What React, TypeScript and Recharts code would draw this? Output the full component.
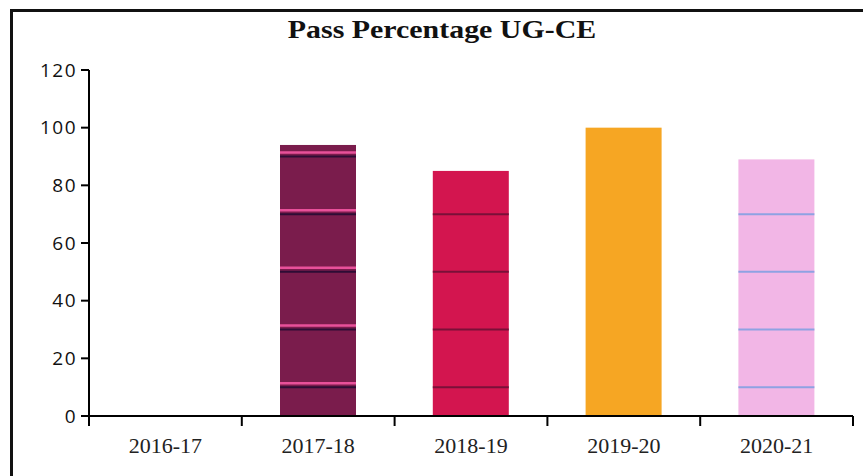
import { BarChart, Bar, Cell, XAxis, YAxis } from "recharts";

const YEARS = ["2016-17", "2017-18", "2018-19", "2019-20", "2020-21"];
const PASS_PCT = [0, 94, 85, 100, 89];
const Y_TICKS = [0, 20, 40, 60, 80, 100, 120];
// the scanned bars carry thin horizontal lines at these values
const STRIPE_AT = [10, 30, 50, 70, 90];

const BAR_STYLES = [
  { fill: "#ffffff", line: "", glow: "" },
  { fill: "#7a1c4c", line: "#2e0c35", glow: "#e8509a" },
  { fill: "#d3154f", line: "#7a1038", glow: "" },
  { fill: "#f6a623", line: "", glow: "" },
  { fill: "#f2b6e6", line: "#8ea2e2", glow: "" },
];

const data = YEARS.map((year, i) => ({ year, pass: PASS_PCT[i] }));

function StripedBar(props: any) {
  const { x, y, width, height, index, payload } = props;
  if (!height || height <= 0) return null;
  const style = BAR_STYLES[index];
  const v = payload.pass;
  const stripes = STRIPE_AT.filter((s) => s < v).map((s) => y + height * (1 - s / v));
  return (
    <g>
      <rect x={x} y={y} width={width} height={height} fill={style.fill} />
      {stripes.map((ly, i) => (
        <g key={i}>
          {style.glow && (
            <line x1={x} x2={x + width} y1={ly - 4} y2={ly - 4} stroke={style.glow} strokeWidth={2.5} />
          )}
          {style.line && (
            <line x1={x} x2={x + width} y1={ly} y2={ly} stroke={style.line} strokeWidth={2} />
          )}
        </g>
      ))}
    </g>
  );
}

function YearTick(props: any) {
  const { x, y, payload, index, visibleTicksCount } = props;
  const half = payload.offset || 76.4;
  const last = index === (visibleTicksCount ?? YEARS.length) - 1;
  return (
    <g>
      <line x1={x - half} x2={x - half} y1={y} y2={y + 10} stroke="#000" strokeWidth={2} />
      {last && <line x1={x + half} x2={x + half} y1={y} y2={y + 10} stroke="#000" strokeWidth={2} />}
      <text
        x={x}
        y={y + 37}
        textAnchor="middle"
        fontFamily="'Liberation Serif', serif"
        fontSize={22}
        fill="#222"
      >
        {payload.value}
      </text>
    </g>
  );
}

export default function App() {
  return (
    <div style={{ position: "absolute", left: 0, top: 0, width: 863, height: 476, background: "#fff", overflow: "hidden" }}>
      <div
        style={{
          position: "absolute",
          left: 10,
          top: 9,
          width: 870,
          height: 480,
          borderTop: "3px solid #111",
          borderLeft: "3px solid #111",
        }}
      />
      <div
        style={{
          position: "absolute",
          left: 0,
          width: 884,
          top: 15,
          textAlign: "center",
          fontFamily: "'Liberation Serif', serif",
          fontWeight: "bold",
          fontSize: 26,
          color: "#111",
          transform: "scaleX(1.15)",
          transformOrigin: "442px 0",
        }}
      >
        Pass Percentage UG-CE
      </div>
      <div style={{ position: "absolute", left: 0, top: 0 }}>
        <BarChart
          width={863}
          height={476}
          data={data}
          margin={{ top: 70, right: 10, bottom: 30, left: 0 }}
          barCategoryGap="25%"
        >
          <XAxis
            dataKey="year"
            height={30}
            axisLine={{ stroke: "#000", strokeWidth: 2 }}
            tickLine={false}
            tickSize={0}
            tickMargin={0}
            interval={0}
            tick={<YearTick />}
          />
          <YAxis
            width={89}
            domain={[0, 120]}
            ticks={Y_TICKS}
            interval={0}
            axisLine={{ stroke: "#000", strokeWidth: 2 }}
            tickLine={{ stroke: "#000", strokeWidth: 2 }}
            tickSize={8}
            tickMargin={4}
            tick={{ fontSize: 19, fill: "#111", fontFamily: "'Open Sans', sans-serif", letterSpacing: 1.5 }}
          />
          <Bar dataKey="pass" isAnimationActive={false} shape={<StripedBar />}>
            {data.map((_, i) => (
              <Cell key={i} fill={BAR_STYLES[i].fill} />
            ))}
          </Bar>
        </BarChart>
      </div>
    </div>
  );
}
